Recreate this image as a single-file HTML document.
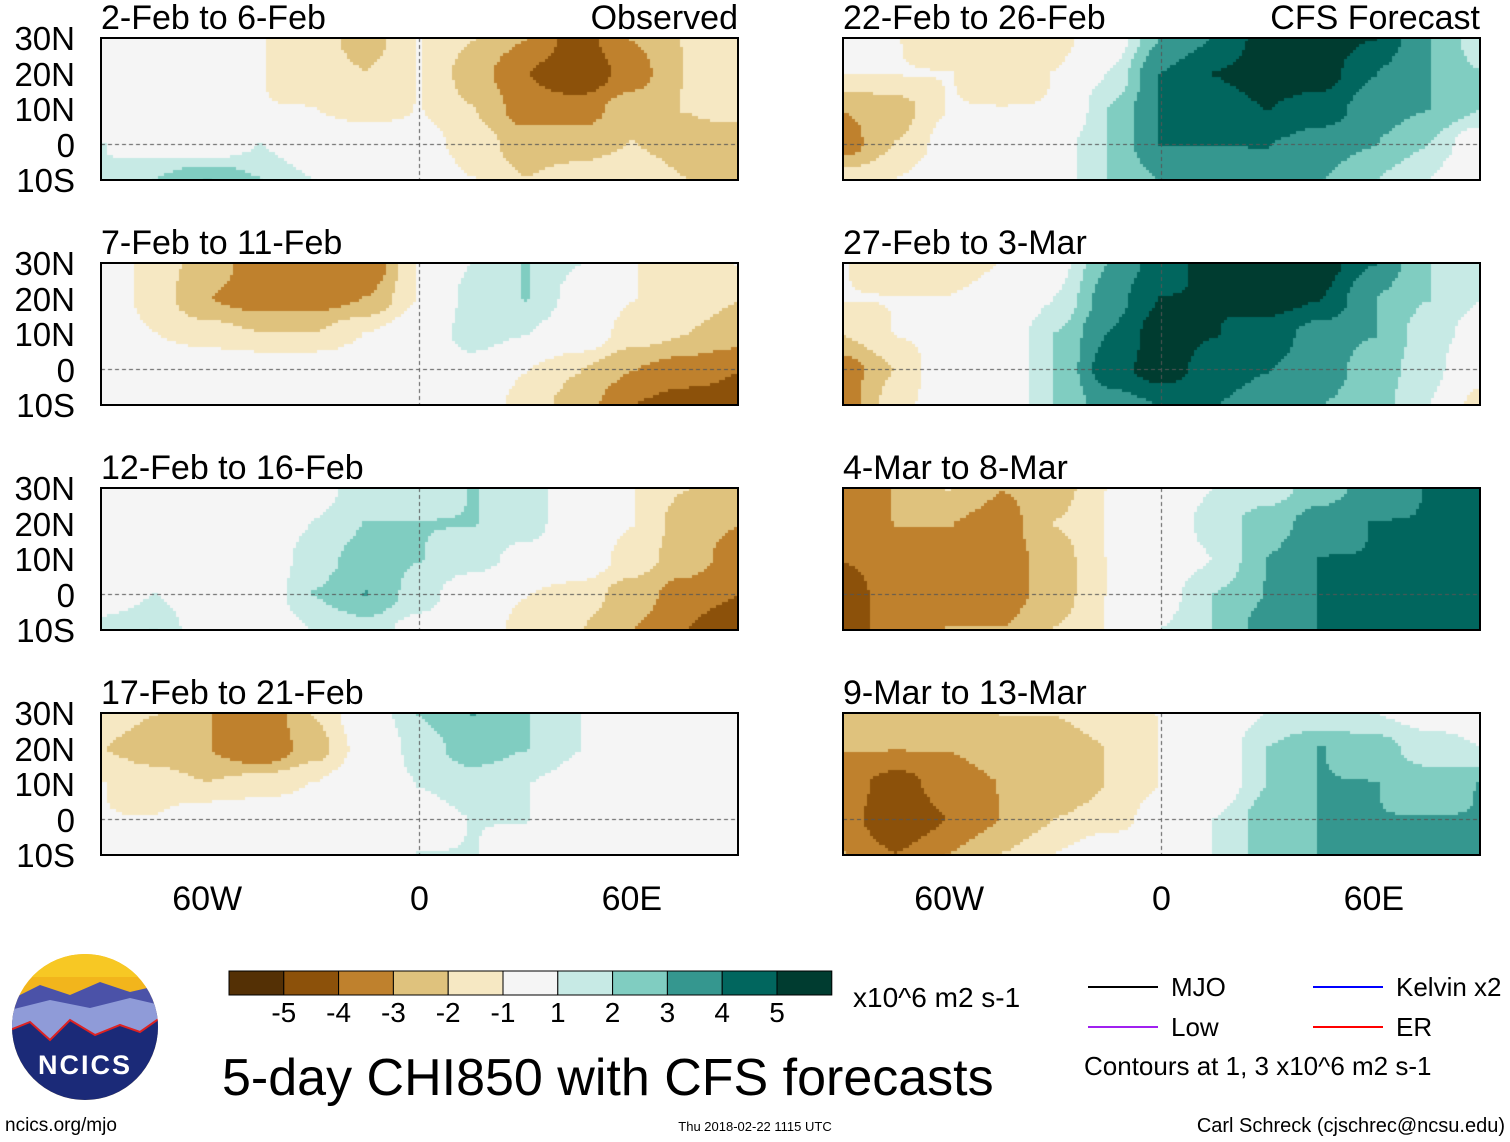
<!DOCTYPE html>
<html><head><meta charset="utf-8"><style>
body{margin:0;background:#fff;}
#root{position:relative;width:1510px;height:1142px;overflow:hidden;font-family:"Liberation Sans",sans-serif;color:#000;}
.t{position:absolute;white-space:nowrap;line-height:1;}
canvas{position:absolute;}
.frame{position:absolute;border:2px solid #000;box-sizing:border-box;}
</style></head><body>
<div id="root">
<svg id="ov" width="1510" height="1142" style="position:absolute;left:0;top:0"></svg>
</div>
<script>
const lons=[-90,-75,-60,-45,-30,-15,0,15,30,45,60,75,90];
const lats=[30,20,10,0,-10];
const titles=["2-Feb to 6-Feb","7-Feb to 11-Feb","12-Feb to 16-Feb","17-Feb to 21-Feb","22-Feb to 26-Feb","27-Feb to 3-Mar","4-Mar to 8-Mar","9-Mar to 13-Mar"];
const levels=[-5,-4,-3,-2,-1,1,2,3,4,5];
const levelLabels=["-5","-4","-3","-2","-1","1","2","3","4","5"];
const palette=["#543005","#8c510a","#bf812d","#dfc27d","#f6e8c3","#f5f5f5","#c7eae5","#80cdc1","#35978f","#01665e","#003c30"];
const latLabels=["30N","20N","10N","0","10S"];
const lonLabels=["60W","0","60E"];
const lonTicks=[-60,0,60];
const f0=[[0,0,-0.5,-1,-1.5,-2.5,-1,-2,-3,-4.5,-3,-2,-1.5],[0,0,0,-1,-1.5,-2,-1,-2.5,-4,-5,-3.5,-2,-1.5],[0,0,0,-1,-1,-1.5,-1,-2,-3.5,-3.5,-2.5,-2,-1.5],[1,0.5,0,1,0,0,-0.5,-1.5,-2.5,-2.5,-2,-2.5,-3],[1,2,3,2,1,0,0,-1,-2,-1.5,-1,-2,-3]];
const f1=[[0,-1.5,-2.5,-3.5,-4,-4,-1,1,2,1,-1,-1.5,-1],[0,-1.5,-3,-3.5,-3.5,-3,-1,1.5,2,0.5,-1,-1.5,-2],[0,-1,-1.5,-2,-2,-1,0,1.5,1,0,-1.5,-2,-2.5],[0,0,0,0,0,0,0,0.5,-1,-2,-3,-3.5,-4],[0,0,0,0,0,0,0,0,-1.5,-2.5,-4,-4.5,-4.5]];
const f2=[[0,0,0,0,0.5,1.5,1.5,2,1.5,0,-1,-2,-3],[0,0,0,0,1,2,2,2,1.5,0,-1,-2.5,-3],[0,0,0,0,1.5,2.5,2,1.5,0.5,0,-1.5,-2.5,-3.5],[0,1,0,0,2,3,1.5,0,-1,-1.5,-2.5,-3.5,-4],[1.5,2,0,0,1,1.5,0.5,0,-1.5,-2,-3,-4,-5]];
const f3=[[-1.5,-2,-3,-4,-2,0,2,3,2,1,0,0,0],[-2,-2.5,-3,-4,-2.5,-0.5,1.5,2.5,2,1,0,0,0],[-1,-1.5,-2,-1.5,-1,0,1,1.5,1,0.5,0,0,0],[-1,-1,0,0,0,0,0.5,1,1,0,0,0,-0.5],[-1,-1,0,0,0,0.5,1,1,0.5,0,0,0,-1]];
const f4=[[-1,-1,-1.5,-1.5,-1.5,0,3,4,5.5,5.5,5,3,1.5],[-1,-1,-1,-1.5,-1,1,4,5,5.5,5.5,4,3,2],[-3,-2.5,-1,-1,-1,2,4,4.5,5,4.5,3.5,3,2],[-3.5,-2,-0.5,0,0.5,2,4,4,4,3.5,3,2,0],[-1.5,-1,0,0,0.5,2,3,3,3.5,3,2,1,-1]];
const f5=[[-1,-1.5,-1.5,-1,0.5,3,4.5,5.5,5.5,5.5,4,2,1],[-1,-1,-1,-0.5,1,3.5,5,5,5.5,5,3,2,1],[-2,-1,-0.5,0,2,4,5.5,5,4.5,3.5,3,1.5,0.5],[-3.5,-2,0,0,2,4.5,5.5,4.5,4,3.5,2.5,1.5,-0.5],[-3.5,-1.5,0,0,2,3.5,4,4,3.5,3,2.5,1,-1.5]];
const f6=[[-3.5,-3,-2,-3,-2.5,-1,0,1,1.5,2.5,3.5,4,4],[-4,-3,-3,-3.5,-2,-1,0,1.5,2.5,3.5,4,4,4],[-4,-3.5,-3.5,-3.5,-2.5,-1,0,1,3,4,4,4,4],[-4.5,-3.5,-3.5,-3.5,-2.5,-1,0.5,2,3,4,4,4,4],[-4.5,-3.5,-3,-3,-2,-1,1,2,3.5,4,4,4,4]];
const f7=[[-2.5,-2.5,-2.5,-2,-2,-1.5,-1,0,1,1,1,0.5,0.5],[-3,-3,-3,-2.5,-2.5,-2,-1,0,2,3,2.5,1.5,1],[-3.5,-4.5,-3.5,-3,-3,-2,-1,0,2,3,3,2.5,3],[-3.5,-5,-4,-3,-2,-1.5,-0.5,1,2.5,3,3,3,3],[-3,-4,-3,-2,-1,0,0,1,2.5,3,3,3,3]];
const fields=[f0,f1,f2,f3,f4,f5,f6,f7];

const root=document.getElementById('root');
const ov=document.getElementById('ov');
const NS="http://www.w3.org/2000/svg";
const PW=637,PH=142;
const colX=[101,843], rowY=[38,263,488,713];
function xOf(lon){return (lon+90)/180*PW;}
function yOf(lat){return (30-lat)/40*PH;}
function colorOf(v){v+=0.013;let k=0;for(const l of levels){if(v>=l)k++;}return palette[k];}
function sample(f,lon,lat){
  let fi=(lon+90)/15, fj=(30-lat)/10;
  fi=Math.max(0,Math.min(12-1e-6,fi)); fj=Math.max(0,Math.min(4-1e-6,fj));
  const i=Math.floor(fi), j=Math.floor(fj), a=fi-i, b=fj-j;
  const s=x=>x*x*(3-2*x); const A=s(a),B=s(b);
  return (f[j][i]*(1-A)+f[j][i+1]*A)*(1-B)+(f[j+1][i]*(1-A)+f[j+1][i+1]*A)*B;
}
function txt(x,y,s,size,name,anchor,extra){
  const d=document.createElement('div');d.className='t';d.textContent=s;
  d.style.fontSize=size+'px';d.style.top=y+'px';
  if(anchor==='r'){d.style.right=(1510-x)+'px';}else if(anchor==='c'){d.style.left=x+'px';d.style.transform='translateX(-50%)';}else d.style.left=x+'px';
  if(extra)Object.assign(d.style,extra);
  
  
  root.appendChild(d);return d;
}
fields.forEach((f,p)=>{
  const X=colX[Math.floor(p/4)], Y=rowY[p%4];
  const c=document.createElement('canvas');c.width=PW;c.height=PH;c.style.left=X+'px';c.style.top=Y+'px';
  
  
  root.appendChild(c);
  const g=c.getContext('2d');const st=3;
  for(let py=0;py<PH;py+=st)for(let px=0;px<PW;px+=st){
    const lon=-90+(px+st/2)/PW*180, lat=30-(py+st/2)/PH*40;
    g.fillStyle=colorOf(sample(f,lon,lat));g.fillRect(px,py,st,st);
  }
  g.strokeStyle='#555';g.setLineDash([4,3]);g.lineWidth=1;
  g.beginPath();g.moveTo(0,yOf(0));g.lineTo(PW,yOf(0));g.moveTo(xOf(0),0);g.lineTo(xOf(0),PH);g.stroke();
  const fr=document.createElement('div');fr.className='frame';
  fr.style.left=(X-1)+'px';fr.style.top=(Y-1)+'px';fr.style.width=(PW+2)+'px';fr.style.height=(PH+2)+'px';
  
  
  root.appendChild(fr);
  txt(X,Y-37,titles[p],34,'panel-title-'+(p+1));
  if(p%4===0) txt(X+PW,Y-37,p===0?'Observed':'CFS Forecast',34,'panel-source-label','r');
  if(p<4) lats.forEach((la,i)=>txt(75,Y+yOf(la)-16,latLabels[i],33,'lat-label','r'));
});
[0,1].forEach(ci=>lonTicks.forEach((lo,i)=>txt(colX[ci]+xOf(lo),882,lonLabels[i],34,'lon-label','c')));
palette.forEach((col,k)=>{
  const r=document.createElementNS(NS,'rect');
  r.setAttribute('x',229+k*54.8);r.setAttribute('y',971);r.setAttribute('width',54.8);r.setAttribute('height',24);
  r.setAttribute('fill',col);r.setAttribute('stroke','#000');r.setAttribute('stroke-width',1);
  
  
  ov.appendChild(r);
});
levelLabels.forEach((l,k)=>txt(229+(k+1)*54.8,999,l,28,'colorbar-label','c'));
txt(853,984,'x10^6 m2 s-1',28,'colorbar-units');
const leg=[['MJO','#000',1088,987],['Low','#a020f0',1088,1027],['Kelvin x2','#0000ff',1313,987],['ER','#ff0000',1313,1027]];
leg.forEach(([n,c,x,y])=>{
  const l=document.createElementNS(NS,'line');l.setAttribute('x1',x);l.setAttribute('x2',x+70);l.setAttribute('y1',y);l.setAttribute('y2',y);
  l.setAttribute('stroke',c);l.setAttribute('stroke-width',2);
  
  
  ov.appendChild(l);
  txt(x+83,y-13,n,26,'legend-entry');
});
txt(1084,1053,'Contours at 1, 3 x10^6 m2 s-1',26,'contour-note');
txt(222,1052,'5-day CHI850 with CFS forecasts',52,'main-title');
txt(5,1116,'ncics.org/mjo',19,'footer-url');
txt(755,1120,'Thu 2018-02-22 1115 UTC',13,'footer-date','c');
txt(1505,1116,'Carl Schreck (cjschrec@ncsu.edu)',20,'footer-author','r');
ov.insertAdjacentHTML('beforeend',`<g>
<defs><clipPath id="cl"><circle cx="85" cy="1027" r="73"/></clipPath></defs>
<g clip-path="url(#cl)">
<rect x="10" y="952" width="150" height="150" fill="#f2b51c"/>
<rect x="10" y="952" width="150" height="25" fill="#f7c824"/>
<path d="M10 1000 L40 985 L70 995 L100 982 L130 992 L160 985 L160 1030 L10 1030Z" fill="#4b52a8"/>
<path d="M10 1010 L50 1000 L90 1008 L130 998 L160 1005 L160 1040 L10 1040Z" fill="#8f9bd8"/>
<path d="M10 1030 L30 1022 L50 1040 L70 1020 L95 1035 L120 1025 L140 1032 L160 1018 L160 1102 L10 1102Z" fill="#1b2a78" stroke="#d22" stroke-width="2"/>
</g></g>`);
txt(85,1052,'NCICS',27,'logo-text','c',{color:'#fff',fontWeight:'bold',letterSpacing:'2px'});
</script>
</body></html>
